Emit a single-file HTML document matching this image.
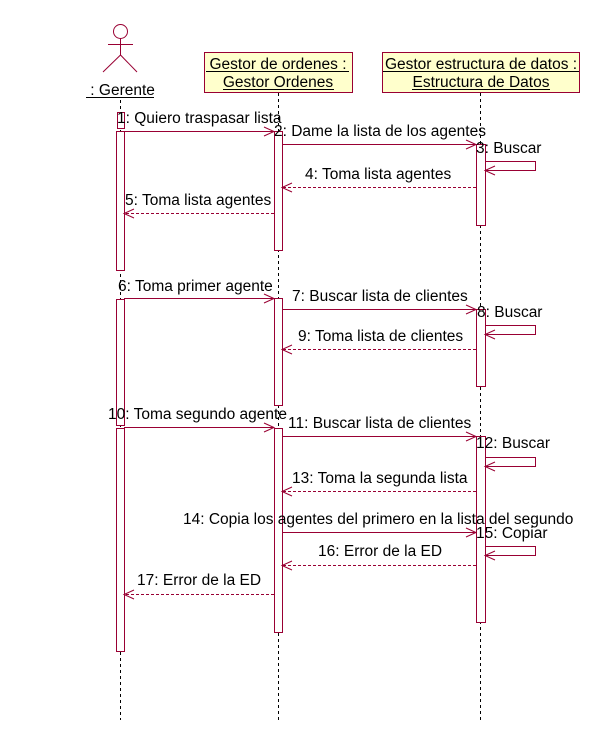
<!DOCTYPE html>
<html><head><meta charset="utf-8"><style>
html,body{margin:0;padding:0;background:#fff;width:609px;height:753px;overflow:hidden}
text{font-family:"Liberation Sans",sans-serif;font-size:15.5px;fill:#000}
</style></head><body>
<svg width="609" height="753" xmlns="http://www.w3.org/2000/svg">
<g stroke="#990033" fill="none" stroke-width="1">
<circle cx="120.5" cy="31.5" r="7"/>
<line x1="120.5" y1="38" x2="120.5" y2="55"/>
<line x1="108" y1="44.5" x2="133" y2="44.5"/>
<line x1="120.5" y1="55" x2="103" y2="72"/>
<line x1="120.5" y1="55" x2="137" y2="72"/>
<rect x="204.5" y="52.5" width="148" height="40" fill="#ffffcc"/>
<rect x="382.5" y="52.5" width="197" height="40" fill="#ffffcc"/>
</g>
<text x="86" y="95">&#160;: Gerente</text>
<line x1="86" y1="97.5" x2="154" y2="97.5" stroke="#000"/>
<text x="278" y="69" text-anchor="middle">Gestor de ordenes :</text>
<line x1="206" y1="71.5" x2="349" y2="71.5" stroke="#000"/>
<text x="278" y="87" text-anchor="middle">Gestor Ordenes</text>
<line x1="223" y1="89.5" x2="334" y2="89.5" stroke="#000"/>
<text x="481" y="69" text-anchor="middle">Gestor estructura de datos :</text>
<line x1="383" y1="71.5" x2="579" y2="71.5" stroke="#000"/>
<text x="481" y="87" text-anchor="middle">Estructura de Datos</text>
<line x1="412" y1="89.5" x2="550" y2="89.5" stroke="#000"/>
<g stroke="#000" stroke-dasharray="3,3">
<line x1="120.5" y1="100" x2="120.5" y2="720"/>
<line x1="278.5" y1="93" x2="278.5" y2="720"/>
<line x1="480.5" y1="93" x2="480.5" y2="720"/>
</g>
<g stroke="#990033" fill="#fff">
<rect x="117.5" y="112.5" width="7" height="16"/>
<rect x="116.5" y="131.5" width="8" height="139"/>
<rect x="116.5" y="299.5" width="8" height="126"/>
<rect x="116.5" y="428.5" width="8" height="223"/>
<rect x="274.5" y="131.5" width="8" height="119"/>
<rect x="274.5" y="298.5" width="8" height="107"/>
<rect x="274.5" y="428.5" width="8" height="204"/>
<rect x="476.5" y="144.5" width="9" height="81"/>
<rect x="476.5" y="309.5" width="9" height="77"/>
<rect x="476.5" y="436.5" width="9" height="186"/>
</g>
<g stroke="#990033" fill="none">
<path d="M124 131.5H274M264 127l10 4.5-10 4.5"/>
<path d="M282 144.5H476M466 140l10 4.5-10 4.5"/>
<path d="M485 161.5H535.5V170.5H485M495 166l-10 4.5 10 4.5"/>
<path d="M476 187.5H282" stroke-dasharray="3,2"/><path d="M292 183l-10 4.5 10 4.5"/>
<path d="M274 213.5H124" stroke-dasharray="3,2"/><path d="M134 209l-10 4.5 10 4.5"/>
<path d="M124 298.5H274M264 294l10 4.5-10 4.5"/>
<path d="M282 309.5H476M466 305l10 4.5-10 4.5"/>
<path d="M485 325.5H535.5V334.5H485M495 330l-10 4.5 10 4.5"/>
<path d="M476 349.5H282" stroke-dasharray="3,2"/><path d="M292 345l-10 4.5 10 4.5"/>
<path d="M124 427.5H274M264 423l10 4.5-10 4.5"/>
<path d="M282 436.5H476M466 432l10 4.5-10 4.5"/>
<path d="M485 457.5H535.5V466.5H485M495 462l-10 4.5 10 4.5"/>
<path d="M476 491.5H282" stroke-dasharray="3,2"/><path d="M292 487l-10 4.5 10 4.5"/>
<path d="M282 532.5H476M466 528l10 4.5-10 4.5"/>
<path d="M485 546.5H535.5V555.5H485M495 551l-10 4.5 10 4.5"/>
<path d="M476 565.5H282" stroke-dasharray="3,2"/><path d="M292 561l-10 4.5 10 4.5"/>
<path d="M274 594.5H124" stroke-dasharray="3,2"/><path d="M134 590l-10 4.5 10 4.5"/>
</g>
<text x="117" y="123">1: Quiero traspasar lista</text>
<text x="274" y="136">2: Dame la lista de los agentes</text>
<text x="476" y="153">3: Buscar</text>
<text x="305" y="179">4: Toma lista agentes</text>
<text x="125" y="205">5: Toma lista agentes</text>
<text x="118" y="291">6: Toma primer agente</text>
<text x="292" y="301">7: Buscar lista de clientes</text>
<text x="477" y="317">8: Buscar</text>
<text x="298" y="341">9: Toma lista de clientes</text>
<text x="108" y="419">10: Toma segundo agente</text>
<text x="288" y="428">11: Buscar lista de clientes</text>
<text x="476" y="448">12: Buscar</text>
<text x="292" y="483">13: Toma la segunda lista</text>
<text x="183" y="524">14: Copia los agentes del primero en la lista del segundo</text>
<text x="476" y="538">15: Copiar</text>
<text x="318" y="556">16: Error de la ED</text>
<text x="137" y="585">17: Error de la ED</text>
</svg>
</body></html>
